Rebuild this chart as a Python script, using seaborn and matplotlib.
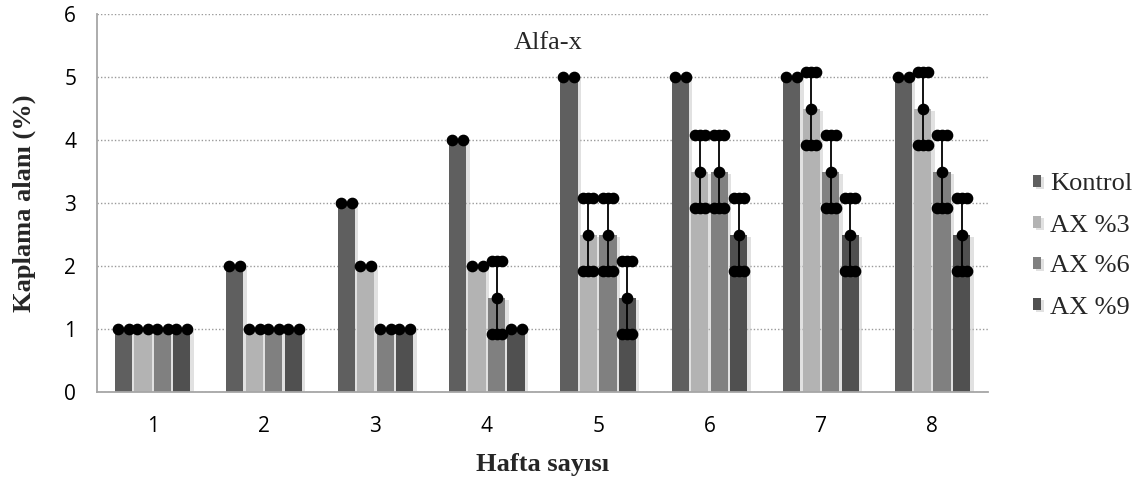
import numpy as np
import pandas as pd
import matplotlib
matplotlib.use("Agg")
import matplotlib.pyplot as plt
import matplotlib.patheffects as pe
import seaborn as sns

weeks = ["1", "2", "3", "4", "5", "6", "7", "8"]
groups = ["Kontrol", "AX %3", "AX %6", "AX %9"]
kontrol = [1, 2, 3, 4, 5, 5, 5, 5]
ax3 = [1, 1, 2, 2, 2.5, 3.5, 4.5, 4.5]
ax6 = [1, 1, 1, 1.5, 2.5, 3.5, 3.5, 3.5]
ax9 = [1, 1, 1, 1, 1.5, 2.5, 2.5, 2.5]
kontrol_err = [0, 0, 0, 0, 0, 0, 0, 0]
ax3_err = [0, 0, 0, 0, 0.58, 0.58, 0.58, 0.58]
ax6_err = [0, 0, 0, 0.58, 0.58, 0.58, 0.58, 0.58]
ax9_err = [0, 0, 0, 0, 0.58, 0.58, 0.58, 0.58]
colors = ["#5f5f5f", "#b3b3b3", "#808080", "#505050"]

values = [kontrol, ax3, ax6, ax9]
errors = [kontrol_err, ax3_err, ax6_err, ax9_err]

rows = []
for g, vals in zip(groups, values):
    for w, v in zip(weeks, vals):
        rows.append({"Hafta": w, "Deger": v, "Grup": g})
df = pd.DataFrame(rows)

sns.set_theme(style="white")
serif = ["Liberation Serif", "DejaVu Serif"]
sans = ["Open Sans", "DejaVu Sans"]

fig = plt.figure(figsize=(11.37, 4.83), dpi=100)
ax = fig.add_axes([97 / 1137, 1 - 392 / 483, (988 - 97) / 1137, (392 - 14) / 483])

sns.barplot(data=df, x="Hafta", y="Deger", hue="Grup", order=weeks, hue_order=groups,
            palette=colors, width=0.7, gap=0.12, saturation=1, errorbar=None,
            edgecolor="none", linewidth=0, ax=ax, zorder=3)

for p in ax.patches:
    p.set_path_effects([pe.SimplePatchShadow(offset=(2.5, -1.5), shadow_rgbFace="#bdbdbd", alpha=0.45),
                        pe.Normal()])

px = 1 / 111.4  # data units per pixel horizontally
ms = 7.4
for cont, vals, errs in zip(ax.containers, values, errors):
    for bar, v, e in zip(cont, vals, errs):
        c = bar.get_x() + bar.get_width() / 2
        if e == 0:
            ax.plot([c - 5.5 * px, c + 5.5 * px], [v, v], ls="none", marker="o", ms=ms,
                    color="black", zorder=6, clip_on=False)
        else:
            ax.plot([c, c], [v - e, v + e], color="black", lw=1.3, zorder=5)
            for yy in (v - e, v + e):
                ax.plot([c - 5 * px, c, c + 5 * px], [yy] * 3, ls="-", lw=6, marker="o", ms=ms,
                        color="black", solid_capstyle="round", zorder=6, clip_on=False)
            ax.plot([c], [v], marker="o", ms=ms, color="black", zorder=6)

ax.set_ylim(0, 6)
ax.set_xlim(-0.5, len(weeks) - 0.5)
ax.set_yticks(range(0, 7))
ax.yaxis.grid(True, color="#9a9a9a", linestyle=(0, (1, 1.5)), linewidth=1.0, zorder=0)
ax.xaxis.grid(False)
ax.set_axisbelow(True)

for s in ["top", "right"]:
    ax.spines[s].set_visible(False)
for s in ["left", "bottom"]:
    ax.spines[s].set_color("#a6a6a6")
    ax.spines[s].set_linewidth(1.3)
    ax.spines[s].set_zorder(4)

ax.set_xticks(np.arange(-0.5, len(weeks), 1.0), minor=True)
ax.tick_params(axis="x", which="major", length=0, pad=17)
ax.tick_params(axis="x", which="minor", length=7, width=1.3, color="#a6a6a6", direction="out")
ax.tick_params(axis="y", which="major", length=7, width=1.3, color="#a6a6a6", direction="out", pad=8)

for lab in ax.get_xticklabels() + ax.get_yticklabels():
    lab.set_family(sans)
    lab.set_fontsize(15)
    lab.set_color("black")

ax.set_xlabel("Hafta sayısı", family=serif, fontsize=19, fontweight="bold", labelpad=12)
ax.set_ylabel("Kaplama alanı (%)", family=serif, fontsize=19, fontweight="bold", labelpad=20)

ax.text((len(weeks) - 1) / 2 + 0.05, 5.54, "Alfa-x", family=serif, fontsize=19,
        ha="center", va="center", zorder=7)

handles, labels = ax.get_legend_handles_labels()
leg = fig.legend(handles, labels, loc="center left", bbox_to_anchor=(1033 / 1137, 1 - 246 / 483),
                 frameon=False, prop={"family": serif, "size": 19}, handlelength=0.3,
                 handleheight=0.3, handletextpad=0.35, labelspacing=0.72, borderaxespad=0,
                 borderpad=0)
if ax.get_legend() is not None:
    ax.get_legend().remove()

fig.savefig("out.png", dpi=100)
